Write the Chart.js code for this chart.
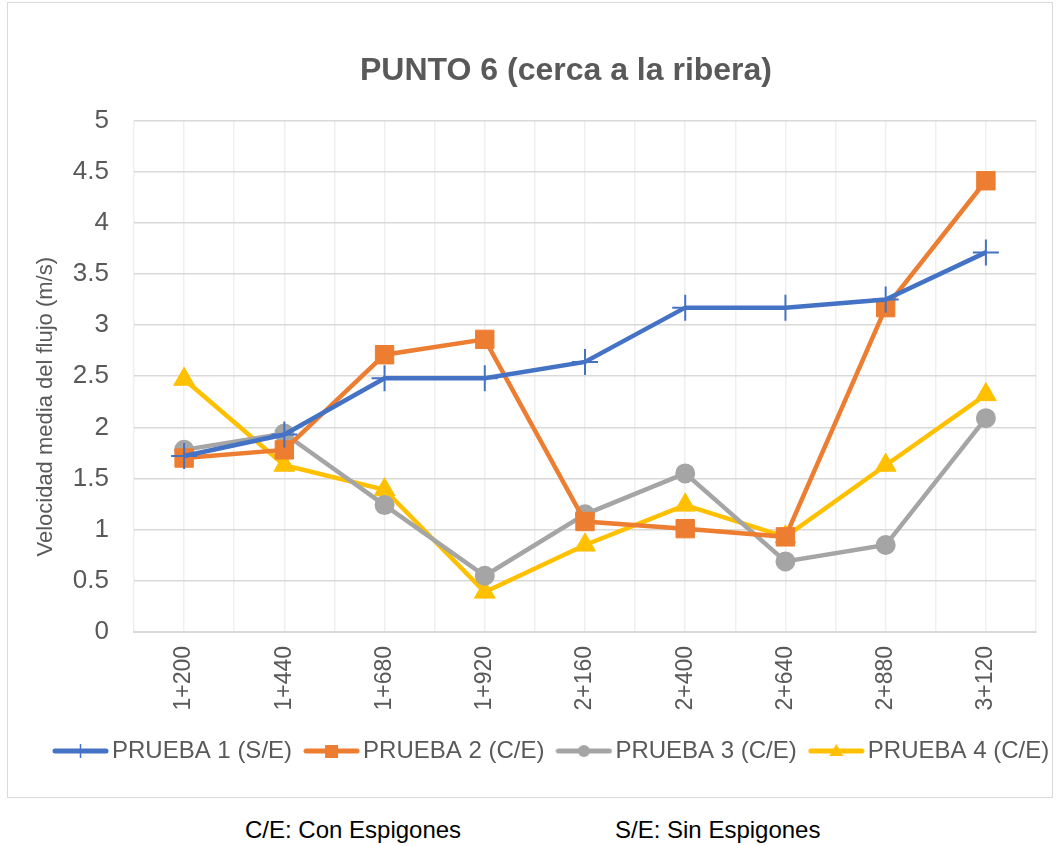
<!DOCTYPE html>
<html>
<head>
<meta charset="utf-8">
<script src="https://cdn.jsdelivr.net/npm/chart.js@4"></script>
<style>
  html, body { margin: 0; padding: 0; background: #fff; }
  body { width: 1057px; height: 846px; position: relative; font-family: "Liberation Sans", Arial, sans-serif; }
  #box { position: absolute; left: 7px; top: 2px; width: 1044px; height: 794px; border: 1px solid #d9d9d9; }
  #box canvas { display: block; }
  .note { position: absolute; top: 816px; font-size: 24px; line-height: 28px; color: #000; }
</style>
</head>
<body>
<div id="box"><canvas id="puntoChart" width="1044" height="794"></canvas></div>
<div class="note" style="left:245px">C/E: Con Espigones</div>
<div class="note" style="left:615px">S/E: Sin Espigones</div>
<script>
const abscisas = ["1+200", "1+440", "1+680", "1+920", "2+160", "2+400", "2+640", "2+880", "3+120"];
const prueba1 = [1.72, 1.93, 2.48, 2.48, 2.64, 3.17, 3.17, 3.25, 3.71];
const prueba2 = [1.70, 1.78, 2.71, 2.86, 1.08, 1.01, 0.93, 3.17, 4.41];
const prueba3 = [1.78, 1.94, 1.24, 0.55, 1.15, 1.55, 0.69, 0.85, 2.09];
const prueba4 = [2.47, 1.63, 1.39, 0.39, 0.85, 1.24, 0.93, 1.63, 2.32];
const nombres = ["PRUEBA 1 (S/E)", "PRUEBA 2 (C/E)", "PRUEBA 3 (C/E)", "PRUEBA 4 (C/E)"];
const colores = ["#4472C4", "#ED7D31", "#A5A5A5", "#FFC000"];

const gris = "#595959";
const fuente = "'Liberation Sans', Arial, sans-serif";

// line + marker icon used in the legend
function iconoLeyenda(color, tipo) {
  const c = document.createElement("canvas");
  c.width = 57; c.height = 24;
  const g = c.getContext("2d");
  g.strokeStyle = color; g.fillStyle = color;
  g.lineWidth = 5; g.lineCap = "round";
  g.beginPath(); g.moveTo(3, 12); g.lineTo(54, 12); g.stroke();
  g.beginPath();
  if (tipo === "cross") {
    g.lineWidth = 1.5; g.lineCap = "butt";
    g.moveTo(28.5, 5); g.lineTo(28.5, 19); g.stroke();
  } else if (tipo === "rect") {
    g.rect(22, 6, 13, 13); g.fill();
  } else if (tipo === "circle") {
    g.arc(28.5, 12, 6, 0, Math.PI * 2); g.fill();
  } else {
    g.moveTo(28.5, 5); g.lineTo(35.5, 17); g.lineTo(21.5, 17); g.closePath(); g.fill();
  }
  return c;
}

// nudge the title and the legend row to the right
const correrBloques = {
  id: "correrBloques",
  afterLayout(chart) {
    chart.legend.left += 33;
    chart.legend.right += 33;
    chart.titleBlock.left += 36;
    chart.titleBlock.right += 36;
  }
};

function serie(i, datos, estilo, radio, borde) {
  return {
    label: nombres[i],
    data: datos,
    borderColor: colores[i],
    backgroundColor: colores[i],
    borderWidth: 4.5,
    pointStyle: estilo,
    pointRadius: radio,
    pointHoverRadius: radio,
    pointBorderWidth: borde,
    pointBorderColor: colores[i],
    pointBackgroundColor: colores[i],
    tension: 0,
    xAxisID: "x",
    yAxisID: "y"
  };
}

const ctx = document.getElementById("puntoChart").getContext("2d");
const chart = new Chart(ctx, {
  type: "line",
  data: {
    labels: abscisas,
    datasets: [
      serie(0, prueba1, "cross", 13, 2),
      serie(1, prueba2, "rect", 13, 1),
      serie(2, prueba3, "circle", 9, 2),
      serie(3, prueba4, "triangle", 12, 1)
    ]
  },
  plugins: [correrBloques],
  options: {
    responsive: false,
    animation: false,
    layout: { padding: { left: 0, right: 0, top: 0, bottom: 24 } },
    plugins: {
      title: {
        display: true,
        text: "PUNTO 6 (cerca a la ribera)",
        color: gris,
        font: { family: fuente, size: 32, weight: "bold" },
        padding: { top: 49, bottom: 30 }
      },
      legend: {
        position: "bottom",
        align: "start",
        labels: {
          usePointStyle: true,
          pointStyleWidth: 39,
          color: gris,
          font: { family: fuente, size: 24 },
          padding: 20,
          generateLabels: (ch) => ch.data.datasets.map((d, i) => ({
            text: d.label,
            fontColor: gris,
            pointStyle: iconoLeyenda(d.borderColor, d.pointStyle),
            datasetIndex: i,
            hidden: false,
            lineWidth: 0
          }))
        }
      },
      tooltip: { enabled: false }
    },
    scales: {
      x: {
        offset: true,
        grid: { color: "#efefef", lineWidth: 1.5, offset: true, drawTicks: false },
        border: { color: "#d9d9d9", width: 2 },
        ticks: {
          color: gris,
          font: { family: fuente, size: 23 },
          minRotation: 90,
          maxRotation: 90,
          padding: 14
        },
        afterFit: (s) => { s.height = 87; }
      },
      xCentro: {
        type: "category",
        position: "bottom",
        offset: true,
        labels: abscisas,
        grid: { color: "#efefef", lineWidth: 1.5, offset: false, drawTicks: false },
        border: { display: false },
        ticks: { display: false },
        afterFit: (s) => { s.height = 0; }
      },
      y: {
        min: 0,
        max: 5,
        ticks: {
          stepSize: 0.5,
          color: gris,
          font: { family: fuente, size: 26 },
          padding: 25,
          callback: (v) => String(v)
        },
        grid: { color: "#d9d9d9", lineWidth: 1.5, drawTicks: false },
        border: { display: false },
        title: {
          display: true,
          // trailing spaces push the axis title a little lower
          text: "Velocidad media del flujo (m/s)" + " ".repeat(10),
          color: gris,
          font: { family: fuente, size: 22 },
          padding: { top: 25, bottom: 13 }
        },
        afterFit: (s) => { s.width = 126; }
      },
      yDerecha: {
        type: "linear",
        position: "right",
        grid: { display: false },
        border: { display: false },
        ticks: { display: false },
        afterFit: (s) => { s.width = 16; }
      }
    }
  }
});
</script>
</body>
</html>
